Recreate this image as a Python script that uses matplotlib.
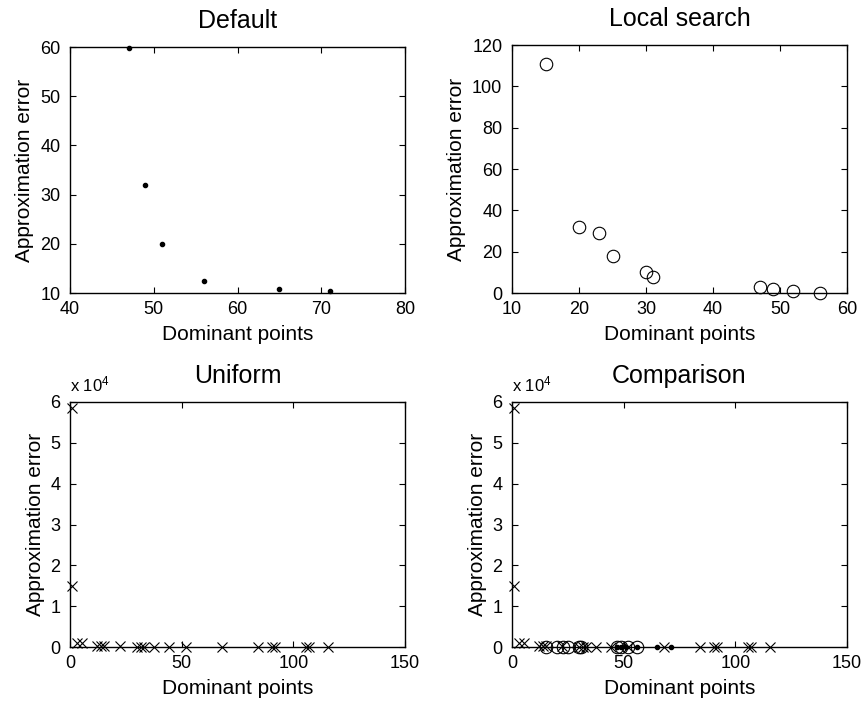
import matplotlib
matplotlib.use("Agg")
import matplotlib.pyplot as plt
from matplotlib.ticker import FuncFormatter

plt.rcParams['font.family'] = ['Liberation Sans', 'DejaVu Sans']
plt.rcParams['mathtext.fontset'] = 'custom'
plt.rcParams['mathtext.rm'] = 'Liberation Sans'
plt.rcParams['mathtext.it'] = 'Liberation Sans'

# Default
default_x = [47, 49, 51, 56, 65, 71]
default_y = [59.7, 32.0, 19.9, 12.4, 10.8, 10.4]

# Local search
local_x = [15, 20, 23, 25, 30, 31, 47, 49, 52, 56]
local_y = [111.0, 31.7, 28.8, 17.7, 10.2, 7.8, 2.9, 1.7, 0.8, 0.1]

# Uniform
uniform_x = [1, 1, 3.3, 5.5, 12.2, 13.7, 15.2, 22.6, 30.1, 31.6, 33.1, 37.8,
             44.2, 52.1, 68.1, 84.2, 90.4, 91.6, 105.6, 106.8, 115.7]
uniform_y = [58500, 15000, 900, 1000, 300, 250, 200, 150, 120, 110, 100, 80,
             60, 50, 30, 20, 15, 14, 10, 9, 8]

titles = ["Default", "Local search", "Uniform", "Comparison"]
xlabel = "Dominant points"
ylabel = "Approximation error"

W, H = 865, 710
fig = plt.figure(figsize=(W / 100, H / 100), dpi=100)

def rect(x0, x1, y0, y1):
    return [x0 / W, 1 - y1 / H, (x1 - x0) / W, (y1 - y0) / H]

ax_tl = fig.add_axes(rect(70, 405, 47, 293))
ax_tr = fig.add_axes(rect(512, 847, 45, 293))
ax_bl = fig.add_axes(rect(70, 405, 402, 647))
ax_br = fig.add_axes(rect(512, 847, 402, 647))

def style(ax, title):
    ax.set_title(title, fontsize=18, pad=14)
    ax.set_xlabel(xlabel, fontsize=15, labelpad=5)
    ax.set_ylabel(ylabel, fontsize=15, labelpad=4)
    ax.tick_params(direction='in', top=True, right=True, length=4,
                   width=0.8, labelsize=13)
    ax.tick_params(axis='x', pad=6)
    ax.tick_params(axis='y', pad=7)
    for s in ax.spines.values():
        s.set_linewidth(1.0)

dot_kw = dict(linestyle='none', marker='o', markersize=3, color='black', clip_on=False)
circ_kw = dict(linestyle='none', marker='o', markersize=9, markerfacecolor='none',
               markeredgecolor='black', markeredgewidth=0.8, clip_on=False)
x_kw = dict(linestyle='none', marker='x', markersize=7.5, color='black',
            markeredgewidth=0.8, clip_on=False)

# Default
ax_tl.plot(default_x, default_y, **dot_kw)
ax_tl.set_xlim(40, 80)
ax_tl.set_ylim(10, 60)
ax_tl.set_xticks([40, 50, 60, 70, 80])
ax_tl.set_yticks([10, 20, 30, 40, 50, 60])
style(ax_tl, titles[0])

# Local search
ax_tr.plot(local_x, local_y, **circ_kw)
ax_tr.set_xlim(10, 60)
ax_tr.set_ylim(0, 120)
ax_tr.set_xticks([10, 20, 30, 40, 50, 60])
ax_tr.set_yticks([0, 20, 40, 60, 80, 100, 120])
style(ax_tr, titles[1])

fmt = FuncFormatter(lambda v, p: f"{v / 1e4:g}")

# Uniform
ax_bl.plot(uniform_x, uniform_y, **x_kw)

# Comparison
ax_br.plot(uniform_x, uniform_y, **x_kw)
ax_br.plot(local_x, local_y, **circ_kw)
ax_br.plot(default_x, default_y, **dot_kw)

for ax, t in ((ax_bl, titles[2]), (ax_br, titles[3])):
    ax.set_xlim(0, 150)
    ax.set_ylim(0, 60000)
    ax.set_xticks([0, 50, 100, 150])
    ax.set_yticks([0, 10000, 20000, 30000, 40000, 50000, 60000])
    ax.yaxis.set_major_formatter(fmt)
    style(ax, t)
    ax.text(0.0, 1.03, r'x 10$^{4}$', transform=ax.transAxes, fontsize=12,
            ha='left', va='bottom')

fig.savefig("out.png", dpi=100)
